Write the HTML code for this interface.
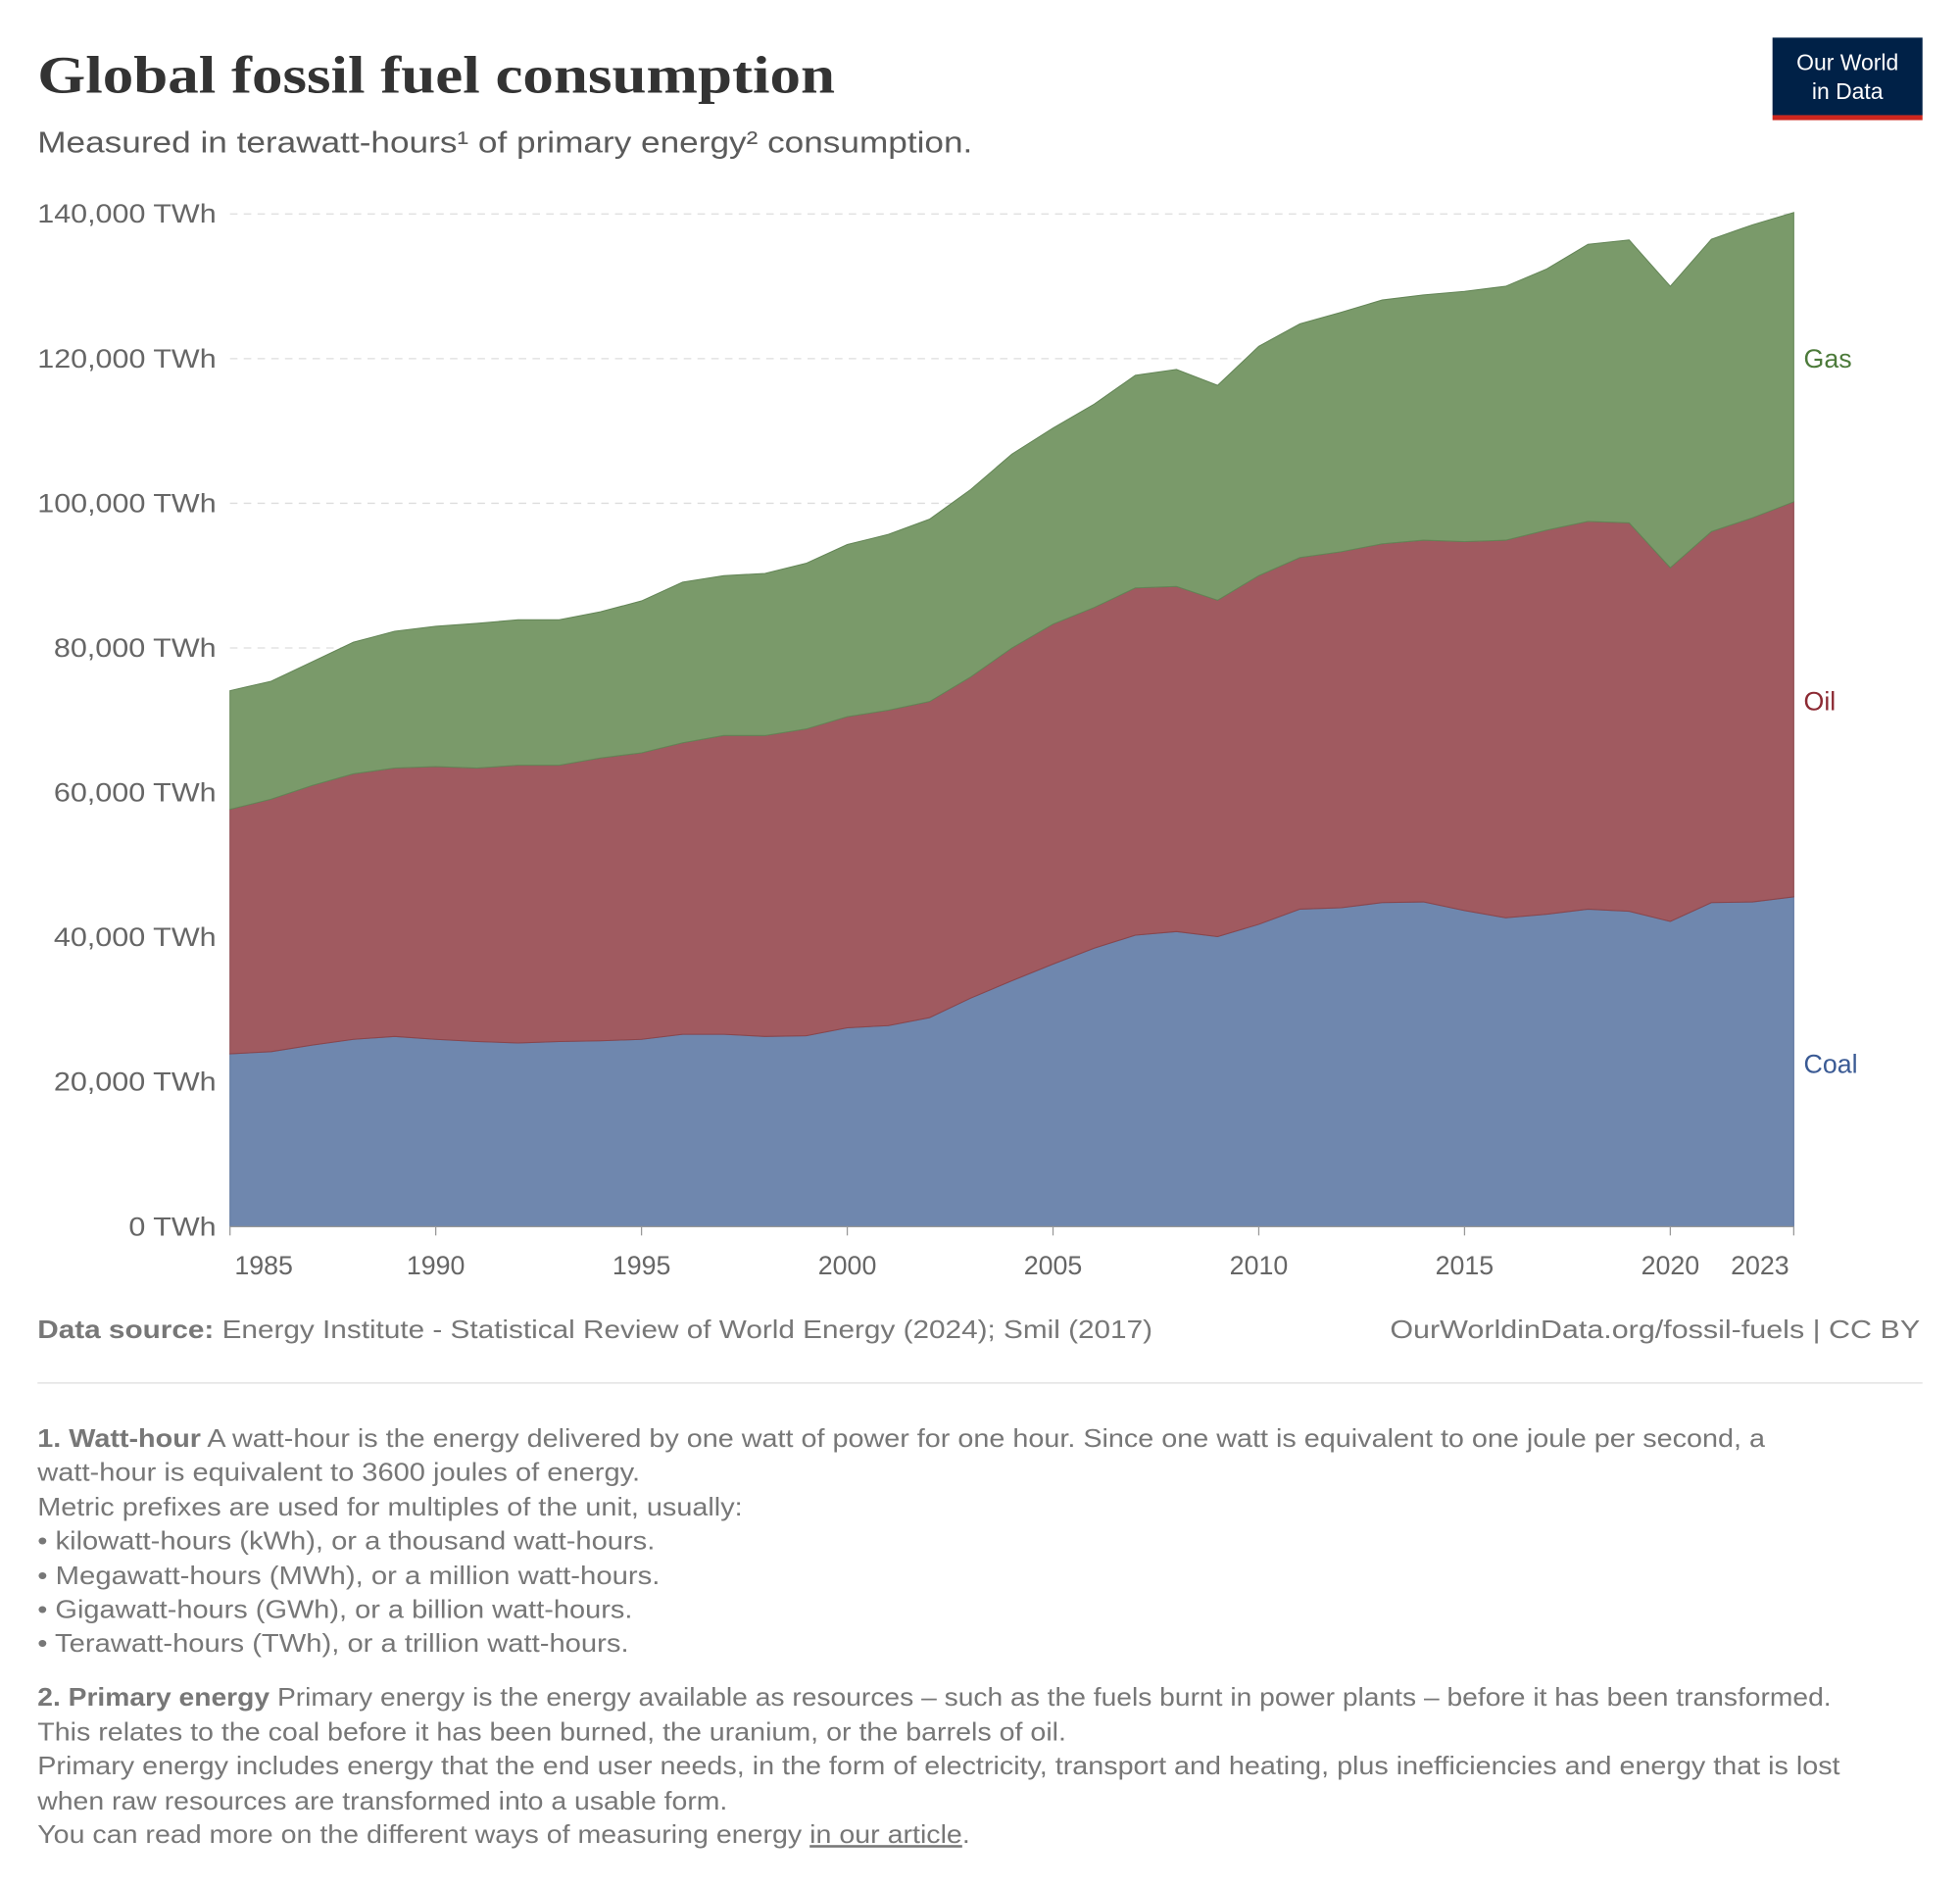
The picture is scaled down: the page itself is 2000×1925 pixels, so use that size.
<!DOCTYPE html>
<html><head><meta charset="utf-8"><style>
html,body{margin:0;padding:0;background:#fff}
svg{display:block}
text{font-family:"Liberation Sans",sans-serif}
</style></head><body>
<svg id="chart" width="2000" height="1925" viewBox="0 0 1568 1509" xmlns="http://www.w3.org/2000/svg">
<text x="30" y="74" font-size="42" font-weight="bold" fill="#333" textLength="638" lengthAdjust="spacingAndGlyphs" style="font-family:'Liberation Serif',serif">Global fossil fuel consumption</text>
<text x="30" y="122" font-size="24" fill="#5b5b5b" textLength="748" lengthAdjust="spacingAndGlyphs">Measured in terawatt-hours¹ of primary energy² consumption.</text>
<g>
<rect x="1418" y="30" width="120" height="62" fill="#002147"/>
<rect x="1418" y="92" width="120" height="4" fill="#ce261e"/>
<text x="1478" y="56" text-anchor="middle" font-size="18" fill="#fff">Our World</text>
<text x="1478" y="79" text-anchor="middle" font-size="18" fill="#fff">in Data</text>
</g>
<g id="grid"></g>
<g id="areas"></g>
<g id="axes"></g>
<text x="30" y="1070" font-size="20" fill="#777" textLength="892" lengthAdjust="spacingAndGlyphs"><tspan font-weight="bold">Data source:</tspan> Energy Institute - Statistical Review of World Energy (2024); Smil (2017)</text>
<text x="1112" y="1070" font-size="20" fill="#777" textLength="424" lengthAdjust="spacingAndGlyphs">OurWorldinData.org/fossil-fuels | CC BY</text>
<line x1="30" y1="1106" x2="1538" y2="1106" stroke="#ddd" stroke-width="1"/>
<g font-size="20" fill="#777">
<text x="30" y="1157" textLength="1382" lengthAdjust="spacingAndGlyphs"><tspan font-weight="bold">1. Watt-hour</tspan> A watt-hour is the energy delivered by one watt of power for one hour. Since one watt is equivalent to one joule per second, a</text>
<text x="30" y="1184" textLength="482" lengthAdjust="spacingAndGlyphs">watt-hour is equivalent to 3600 joules of energy.</text>
<text x="30" y="1212" textLength="564" lengthAdjust="spacingAndGlyphs">Metric prefixes are used for multiples of the unit, usually:</text>
<text x="30" y="1239" textLength="494" lengthAdjust="spacingAndGlyphs">• kilowatt-hours (kWh), or a thousand watt-hours.</text>
<text x="30" y="1267" textLength="498" lengthAdjust="spacingAndGlyphs">• Megawatt-hours (MWh), or a million watt-hours.</text>
<text x="30" y="1294" textLength="476" lengthAdjust="spacingAndGlyphs">• Gigawatt-hours (GWh), or a billion watt-hours.</text>
<text x="30" y="1321" textLength="473" lengthAdjust="spacingAndGlyphs">• Terawatt-hours (TWh), or a trillion watt-hours.</text>
<text x="30" y="1364" textLength="1435" lengthAdjust="spacingAndGlyphs"><tspan font-weight="bold">2. Primary energy</tspan> Primary energy is the energy available as resources – such as the fuels burnt in power plants – before it has been transformed.</text>
<text x="30" y="1392" textLength="823" lengthAdjust="spacingAndGlyphs">This relates to the coal before it has been burned, the uranium, or the barrels of oil.</text>
<text x="30" y="1419" textLength="1442" lengthAdjust="spacingAndGlyphs">Primary energy includes energy that the end user needs, in the form of electricity, transport and heating, plus inefficiencies and energy that is lost</text>
<text x="30" y="1447" textLength="552" lengthAdjust="spacingAndGlyphs">when raw resources are transformed into a usable form.</text>
<text x="30" y="1474" textLength="746" lengthAdjust="spacingAndGlyphs">You can read more on the different ways of measuring energy <tspan text-decoration="underline">in our article</tspan>.</text>
</g>
</svg>
<script>
const years = [];
for (let y = 1985; y <= 2023; y++) years.push(y);
const coal = [23.9,24.2,25.1,25.9,26.3,25.9,25.6,25.4,25.6,25.7,25.9,26.6,26.6,26.3,26.4,27.5,27.8,28.9,31.6,34.0,36.3,38.5,40.3,40.8,40.1,41.8,43.9,44.1,44.8,44.9,43.7,42.7,43.2,43.9,43.6,42.2,44.8,44.9,45.6];
const oil = [33.8,34.9,35.9,36.7,37.1,37.7,37.8,38.4,38.2,39.1,39.6,40.3,41.3,41.6,42.4,43.0,43.6,43.7,44.4,46.0,47.0,47.1,48.0,47.7,46.5,48.2,48.6,49.2,49.6,50.0,51.0,52.2,53.1,53.6,53.7,48.9,51.3,53.1,54.6];
const gas = [16.4,16.3,17.1,18.2,18.9,19.4,20.0,20.1,20.1,20.2,21.0,22.2,22.1,22.4,22.9,23.8,24.3,25.2,25.9,26.8,27.1,28.1,29.4,30.0,29.7,31.7,32.3,33.1,33.7,33.9,34.6,35.1,36.1,38.3,39.1,38.9,40.4,40.5,40.0];
const yTicks = [0,20000,40000,60000,80000,100000,120000,140000];
const xTicks = [1985,1990,1995,2000,2005,2010,2015,2020,2023];
const NS = 'http://www.w3.org/2000/svg';
const X0=184,X1=1435,Y0=981,Y1=171;
const xs = y => X0 + (y-1985)/(2023-1985)*(X1-X0);
const ys = v => Y0 - v/140000*(Y0-Y1);
function mk(tag, attrs, parent){const e=document.createElementNS(NS,tag);for(const k in attrs)e.setAttribute(k,attrs[k]);parent.appendChild(e);return e;}
const grid=document.getElementById('grid'), areas=document.getElementById('areas'), axes=document.getElementById('axes');
yTicks.forEach(v=>{
  if(v>0){const l=mk('line',{x1:X0,x2:X1,y1:ys(v),y2:ys(v),stroke:'#ddd','stroke-dasharray':'6,5'},grid);
  
  }
  const t=mk('text',{x:173,y:ys(v)+7,'text-anchor':'end','font-size':'21',fill:'#666'},axes);
  t.textContent=v.toLocaleString('en-US')+' TWh';
  const w = v===0 ? 70 : (v<100000 ? 130 : 143);
  t.setAttribute('textLength', w);
  t.setAttribute('lengthAdjust','spacingAndGlyphs');
  
  
});
const series=[['coal',coal,'#6f87ae','#5a729b'],['oil',oil,'#a05a60','#8a454b'],['gas',gas,'#7a9a6a','#638556']];
let base=years.map(()=>0);
series.forEach(([name,vals,fill,stroke])=>{
  const top=base.map((b,i)=>b+vals[i]*1000);
  let d='M'+years.map((y,i)=>xs(y)+','+ys(top[i])).join('L');
  for(let i=years.length-1;i>=0;i--) d+='L'+xs(years[i])+','+ys(base[i]);
  d+='Z';
  const p=mk('path',{d:d,fill:fill,stroke:stroke,'stroke-width':'0.8'},areas);
  
  
  base=top;
});
mk('line',{x1:X0,x2:X1,y1:Y0,y2:Y0,stroke:'#999'},axes);
xTicks.forEach(y=>{
  mk('line',{x1:xs(y),x2:xs(y),y1:Y0,y2:Y0+7,stroke:'#999'},axes);
  const t=mk('text',{x:xs(y)+(y===1985?27:y===2023?-27:0),y:Y0+38,'text-anchor':'middle','font-size':'21',fill:'#666'},axes);
  t.textContent=y;
  
  
});
[['Gas',294,'#4c7a3a'],['Oil',568,'#8c2a33'],['Coal',858,'#3a5a94']].forEach(([n,y,c])=>{
  const t=mk('text',{x:1443,y:y,'font-size':'21',fill:c},axes);
  t.textContent=n;
  
  
});
</script>
</body></html>
